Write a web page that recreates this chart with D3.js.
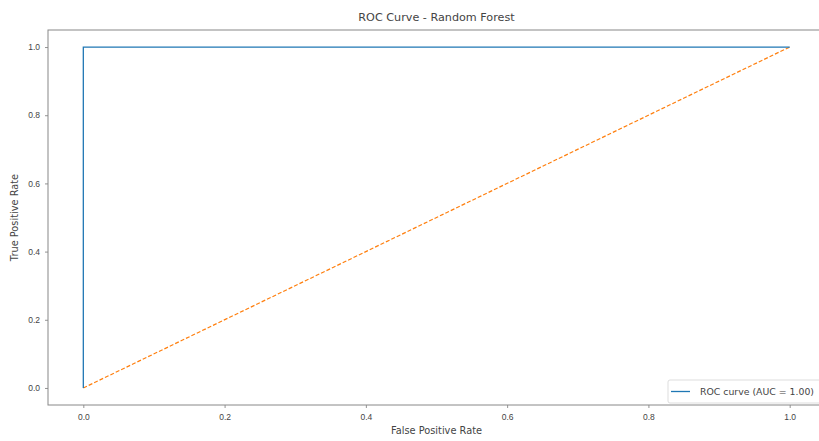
<!DOCTYPE html>
<html>
<head>
<meta charset="utf-8">
<script src="https://cdn.jsdelivr.net/npm/d3@7"></script>
<style>
  body { margin: 0; background: #fff; }
  svg { display: block; font-family: "DejaVu Sans", sans-serif; }
</style>
</head>
<body>
<div id="chart"></div>
<script>
// ROC curve points (Random Forest)
const fpr = [0, 0, 1];
const tpr = [0, 1, 1];
// chance line
const chanceX = [0, 1];
const chanceY = [0, 1];
const tickValues = [0, 0.2, 0.4, 0.6, 0.8, 1.0];
const aucLabel = 'ROC curve (AUC = 1.00)';

const W = 819, H = 441;
// plot area (axes box); right edge runs past the window like the reference
const box = { left: 48, right: 825, top: 30, bottom: 405 };

const svg = d3.select('#chart').append('svg')
  .attr('width', W)
  .attr('height', H);

// matplotlib-style 5% margins around data
const x = d3.scaleLinear().domain([-0.05, 1.05]).range([box.left, box.right]);
const y = d3.scaleLinear().domain([-0.05, 1.05]).range([box.bottom, box.top]);

// Lines
const line = d3.line()
  .x(d => x(d[0]))
  .y(d => y(d[1]));

svg.append('path')
  .datum(chanceX.map((v, i) => [v, chanceY[i]]))
  .attr('d', line)
  .attr('fill', 'none')
  .attr('stroke', '#ff7f0e')
  .attr('stroke-width', 1.2)
  .attr('stroke-dasharray', '4,2');

svg.append('path')
  .datum(fpr.map((v, i) => [v, tpr[i]]))
  .attr('d', line)
  .attr('fill', 'none')
  .attr('stroke', '#1f77b4')
  .attr('stroke-width', 1.3);

// Axes
const xAxis = svg.append('g')
  .attr('transform', `translate(0,${box.bottom})`)
  .call(d3.axisBottom(x).tickValues(tickValues).tickFormat(d3.format('.1f')).tickSize(3).tickPadding(6));

const yAxis = svg.append('g')
  .attr('transform', `translate(${box.left},0)`)
  .call(d3.axisLeft(y).tickValues(tickValues).tickFormat(d3.format('.1f')).tickSize(3).tickPadding(5));

[xAxis, yAxis].forEach(g => {
  g.select('.domain').remove();
  g.selectAll('line').attr('stroke', '#777').attr('stroke-width', 0.8);
  g.selectAll('text').attr('fill', '#444').style('font-size', '8.5px');
});

// Frame (spines)
svg.append('rect')
  .attr('x', box.left)
  .attr('y', box.top)
  .attr('width', box.right - box.left)
  .attr('height', box.bottom - box.top)
  .attr('fill', 'none')
  .attr('stroke', '#888')
  .attr('stroke-width', 1);

// Title and axis labels
svg.append('text')
  .attr('x', (box.left + box.right) / 2)
  .attr('y', 21)
  .attr('text-anchor', 'middle')
  .attr('fill', '#444')
  .style('font-size', '11.2px')
  .text('ROC Curve - Random Forest');

svg.append('text')
  .attr('x', (box.left + box.right) / 2)
  .attr('y', 434)
  .attr('text-anchor', 'middle')
  .attr('fill', '#444')
  .style('font-size', '9.8px')
  .text('False Positive Rate');

svg.append('text')
  .attr('transform', `translate(18,${(box.top + box.bottom) / 2}) rotate(-90)`)
  .attr('text-anchor', 'middle')
  .attr('fill', '#444')
  .style('font-size', '9.8px')
  .text('True Positive Rate');

// Legend (lower right)
const legend = svg.append('g').attr('transform', 'translate(668,380)');
legend.append('rect')
  .attr('width', 170)
  .attr('height', 23)
  .attr('rx', 2)
  .attr('fill', '#fff')
  .attr('fill-opacity', 0.8)
  .attr('stroke', '#ddd');
legend.append('line')
  .attr('x1', 3).attr('x2', 22)
  .attr('y1', 11.5).attr('y2', 11.5)
  .attr('stroke', '#1f77b4')
  .attr('stroke-width', 1.3);
legend.append('text')
  .attr('x', 32)
  .attr('y', 15)
  .attr('fill', '#444')
  .style('font-size', '9.5px')
  .attr('textLength', 114)
  .attr('lengthAdjust', 'spacingAndGlyphs')
  .text(aucLabel);
</script>
</body>
</html>
